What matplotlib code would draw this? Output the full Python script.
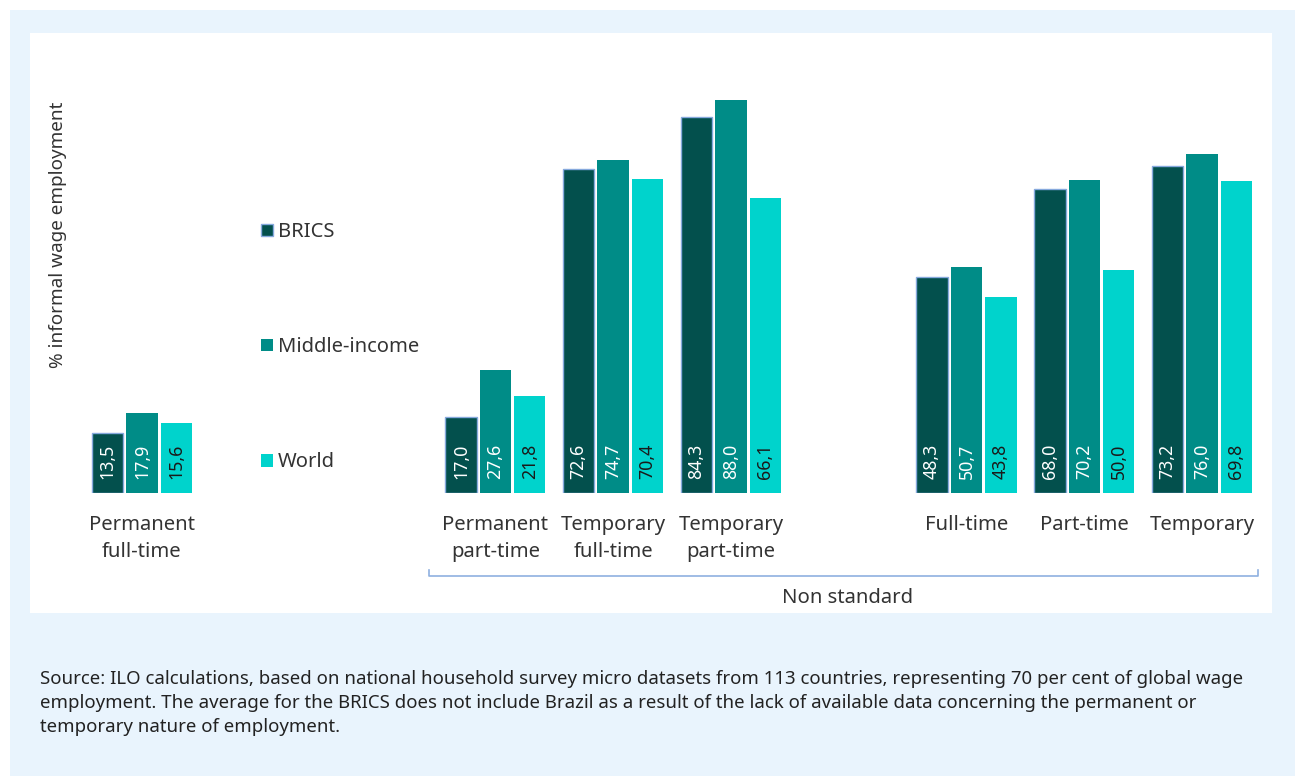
import numpy as np
import matplotlib
matplotlib.use("Agg")
import matplotlib.pyplot as plt
from matplotlib.patches import Rectangle
from matplotlib.transforms import blended_transform_factory

plt.rcParams["font.family"] = ["Noto Sans", "DejaVu Sans"]

categories = ["Permanent\nfull-time", "Permanent\npart-time", "Temporary\nfull-time",
              "Temporary\npart-time", "Full-time", "Part-time", "Temporary"]
positions = [0, 3, 4, 5, 7, 8, 9]
series = ["BRICS", "Middle-income", "World"]
brics = [13.5, 17.0, 72.6, 84.3, 48.3, 68.0, 73.2]
middle = [17.9, 27.6, 74.7, 88.0, 50.7, 70.2, 76.0]
world = [15.6, 21.8, 70.4, 66.1, 43.8, 50.0, 69.8]
colors = ["#03504d", "#008c87", "#00d3cc"]
label_colors = ["white", "white", "#1a1a1a"]

W, H = 1295, 776
fig = plt.figure(figsize=(W / 100, H / 100), dpi=100)
fig.patch.set_facecolor("white")


def fx(px):
    return px / W


def fy(py):
    return 1 - py / H


# outer light panel and inner white box
fig.patches.append(Rectangle((fx(10), fy(776)), fx(1285), 766 / H, transform=fig.transFigure,
                             facecolor="#e9f4fd", edgecolor="none", zorder=-10))
fig.patches.append(Rectangle((fx(30), fy(613)), fx(1242), 580 / H, transform=fig.transFigure,
                             facecolor="white", edgecolor="none", zorder=-9))

ax = fig.add_axes([fx(83), fy(493), fx(1261 - 83), (493 - 60) / H])
ax.set_facecolor("none")
ax.set_xlim(-0.5, 9.5)
ax.set_ylim(0, 97)

x = np.array(positions, dtype=float)
step = 0.292
bw = 0.265
handles = []
for i, (vals, col, lc) in enumerate(zip([brics, middle, world], colors, label_colors)):
    xs = x + (i - 1) * step
    ec = "#86a9dd" if i == 0 else "none"
    b = ax.bar(xs, vals, width=bw, color=col, edgecolor=ec, linewidth=1.0, label=series[i])
    handles.append(b)
    for xx, v in zip(xs, vals):
        ax.text(xx, 3.2, f"{v:.1f}".replace(".", ","), rotation=90, ha="center", va="bottom",
                color=lc, fontsize=12.8)

for s in ax.spines.values():
    s.set_visible(False)
ax.set_yticks([])
ax.set_xticks(positions)
ax.set_xticklabels(categories, fontsize=14.6, color="#333333", linespacing=1.45)
ax.tick_params(axis="x", length=0, pad=16)

ax.set_ylabel("% informal wage employment", fontsize=13.6, color="#333333")
ax.yaxis.set_label_coords(fx(67 - 83) / fx(1261 - 83), (493 - 235) / 433)

leg = ax.legend(handles=handles, loc="upper left", bbox_to_anchor=(fx(243), fy(204)),
                bbox_transform=fig.transFigure, frameon=False, fontsize=14.5,
                labelspacing=4.72, handlelength=0.6, handleheight=0.6, handletextpad=0.25)
for t in leg.get_texts():
    t.set_color("#333333")

# "Non standard" bracket
tr = blended_transform_factory(ax.transData, ax.transAxes)
yb = (493 - 576) / 433
yt = (493 - 570) / 433
x0 = (430 - 142) / 118
x1 = (1260 - 142) / 118
ax.plot([x0, x0, x1, x1], [yt, yb, yb, yt], color="#8fb0e0", lw=1.2, transform=tr, clip_on=False)
ax.text((849 - 142) / 118, (493 - 598) / 433, "Non standard", transform=tr, ha="center",
        va="center", fontsize=14.6, color="#333333")

source = ("Source: ILO calculations, based on national household survey micro datasets from 113 countries, "
          "representing 70 per cent of global wage\nemployment. The average for the BRICS does not include "
          "Brazil as a result of the lack of available data concerning the permanent or\ntemporary nature "
          "of employment.")
fig.text(fx(40), fy(670), source, ha="left", va="top", fontsize=13.4, color="#222222", linespacing=1.42)

fig.savefig("out.png", dpi=100)
